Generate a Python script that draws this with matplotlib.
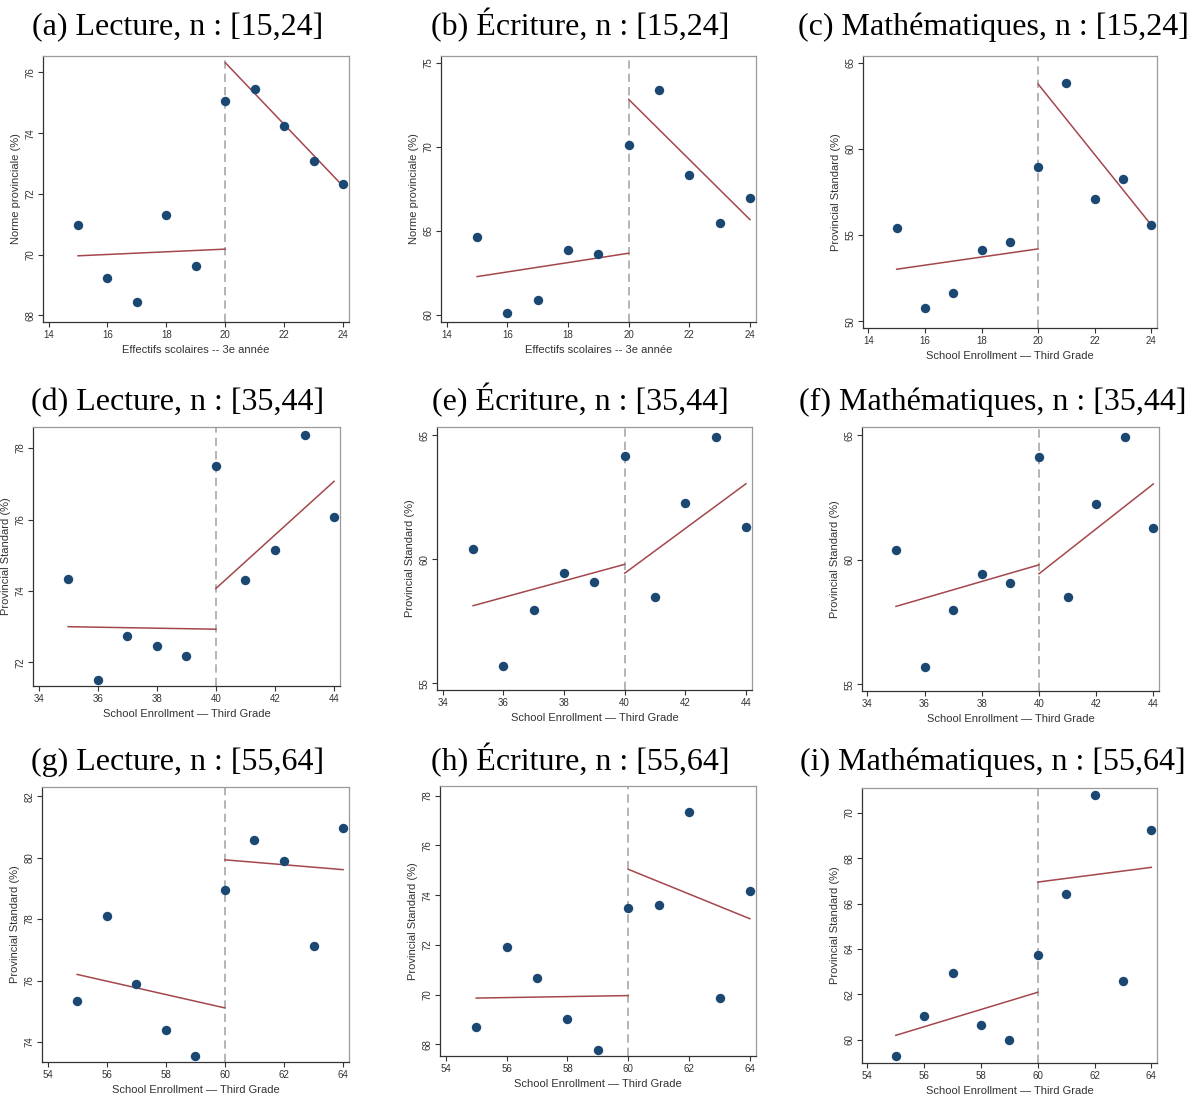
import matplotlib.pyplot as plt
import numpy as np

# --- data ------------------------------------------------------------------
titles = ["(a) Lecture, n : [15,24]", "(b) Écriture, n : [15,24]", "(c) Mathématiques, n : [15,24]",
          "(d) Lecture, n : [35,44]", "(e) Écriture, n : [35,44]", "(f) Mathématiques, n : [35,44]",
          "(g) Lecture, n : [55,64]", "(h) Écriture, n : [55,64]", "(i) Mathématiques, n : [55,64]"]

x_row1 = [15, 16, 17, 18, 19, 20, 21, 22, 23, 24]
x_row2 = [35, 36, 37, 38, 39, 40, 41, 42, 43, 44]
x_row3 = [55, 56, 57, 58, 59, 60, 61, 62, 63, 64]
cutoffs = [20, 40, 60]

y_a = [70.97, 69.22, 68.43, 71.30, 69.64, 75.07, 75.44, 74.23, 73.07, 72.31]
y_b = [64.64, 60.10, 60.87, 63.89, 63.63, 70.12, 73.35, 68.35, 65.46, 66.96]
y_c = [55.42, 50.76, 51.65, 54.16, 54.61, 58.96, 63.80, 57.12, 58.23, 55.58]
y_d = [74.34, 71.52, 72.73, 72.47, 72.18, 77.50, 74.32, 75.15, 78.38, 76.07]
y_e = [60.41, 55.70, 57.97, 59.43, 59.07, 64.15, 58.50, 62.26, 64.93, 61.30]
y_f = [60.41, 55.70, 57.97, 59.43, 59.07, 64.15, 58.50, 62.26, 64.93, 61.30]
y_g = [75.32, 78.10, 75.88, 74.39, 73.55, 78.95, 80.56, 79.90, 77.11, 80.97]
y_h = [68.70, 71.91, 70.65, 69.00, 67.79, 73.47, 73.59, 77.36, 69.88, 74.17]
y_i = [59.26, 61.05, 62.92, 60.65, 60.00, 63.75, 66.42, 70.77, 62.58, 69.26]

# fitted lines: (left start, left end at cutoff, right start at cutoff, right end)
fit_a = [69.96, 70.18, 76.32, 72.25]
fit_b = [62.28, 63.67, 72.82, 65.67]
fit_c = [53.02, 54.20, 63.76, 55.58]
fit_d = [73.00, 72.93, 74.07, 77.07]
fit_e = [58.13, 59.80, 59.44, 63.05]
fit_f = [58.13, 59.80, 59.44, 63.05]
fit_g = [76.20, 75.11, 79.93, 79.61]
fit_h = [69.86, 69.96, 75.04, 73.05]
fit_i = [60.19, 62.09, 66.95, 67.60]

yticks_all = [[68, 70, 72, 74, 76], [60, 65, 70, 75], [50, 55, 60, 65],
              [72, 74, 76, 78], [55, 60, 65], [55, 60, 65],
              [74, 76, 78, 80, 82], [68, 70, 72, 74, 76, 78], [60, 62, 64, 66, 68, 70]]
ylims = [(67.78, 76.54), (59.58, 75.4), (49.61, 65.39),
         (71.34, 78.59), (54.73, 65.34), (54.73, 65.34),
         (73.35, 82.3), (67.53, 78.39), (58.97, 71.1)]

ylab_fr = "Norme provinciale (%)"
ylab_en = "Provincial Standard (%)"
xlab_fr = "Effectifs scolaires -- 3e année"
xlab_en = "School Enrollment — Third Grade"

# --- layout (pixel boxes: left, right, top, bottom) ------------------------
W, H = 1191, 1099
boxes = [(43, 349, 56, 322), (441, 756, 56, 322), (863, 1157, 56, 328),
         (33, 340, 427, 686), (437, 752, 427, 690), (862, 1159, 427, 691),
         (42, 349, 787, 1062), (440, 756, 786, 1056), (862, 1157, 788, 1063)]
# title centre x and baseline y
title_pos = [(178, 35), (580, 35), (993, 35),
             (178, 410), (580, 410), (993, 410),
             (178, 770), (580, 770), (993, 770)]

ys = [y_a, y_b, y_c, y_d, y_e, y_f, y_g, y_h, y_i]
fits = [fit_a, fit_b, fit_c, fit_d, fit_e, fit_f, fit_g, fit_h, fit_i]
xs = [x_row1] * 3 + [x_row2] * 3 + [x_row3] * 3
cuts = [cutoffs[0]] * 3 + [cutoffs[1]] * 3 + [cutoffs[2]] * 3
ylabs = [ylab_fr, ylab_fr] + [ylab_en] * 7
xlabs = [xlab_fr, xlab_fr] + [xlab_en] * 7

dot_color = "#1b4872"
fit_color = "#a4474c"
sans = ["Liberation Sans", "DejaVu Sans"]

fig = plt.figure(figsize=(W / 100, H / 100), dpi=100)

for k in range(9):
    l, r, t, b = boxes[k]
    ax = fig.add_axes([l / W, 1 - b / H, (r - l) / W, (b - t) / H])
    x = np.array(xs[k])
    y = np.array(ys[k])
    c = cuts[k]
    f = fits[k]

    ax.axvline(c, color="#a8a8a8", lw=1.2, ls=(0, (5, 3)), zorder=1)
    ax.plot([x[0], c], [f[0], f[1]], color=fit_color, lw=1.1, zorder=2)
    ax.plot([c, x[-1]], [f[2], f[3]], color=fit_color, lw=1.1, zorder=2)
    ax.scatter(x, y, s=46, color=dot_color, zorder=3, linewidths=0)

    ax.set_xlim(x[0] - 1.19, x[-1] + 0.2)
    ax.set_ylim(*ylims[k])
    ax.set_xticks(np.arange(x[0] - 1, x[-1] + 1, 2))
    ax.set_yticks(yticks_all[k])
    ax.tick_params(axis="both", labelsize=7, length=3.5, width=0.8,
                   color="#333333", labelcolor="#333333", pad=2)
    for lab in ax.get_xticklabels() + ax.get_yticklabels():
        lab.set_family(sans)
    for lab in ax.get_yticklabels():
        lab.set_rotation(90)
        lab.set_va("center")
    for side in ["left", "bottom"]:
        ax.spines[side].set_color("#333333")
        ax.spines[side].set_linewidth(0.9)
    for side in ["top", "right"]:
        ax.spines[side].set_color("#9a9a9a")
        ax.spines[side].set_linewidth(0.9)
    ax.set_xlabel(xlabs[k], fontsize=8, color="#333333", labelpad=4, family=sans)
    ax.set_ylabel(ylabs[k], fontsize=8, color="#333333", labelpad=3, family=sans)

    tx, ty = title_pos[k]
    fig.text(tx / W, 1 - ty / H, titles[k], ha="center", va="baseline",
             fontsize=23, family="Liberation Serif")

fig.savefig("out.png", dpi=100)
